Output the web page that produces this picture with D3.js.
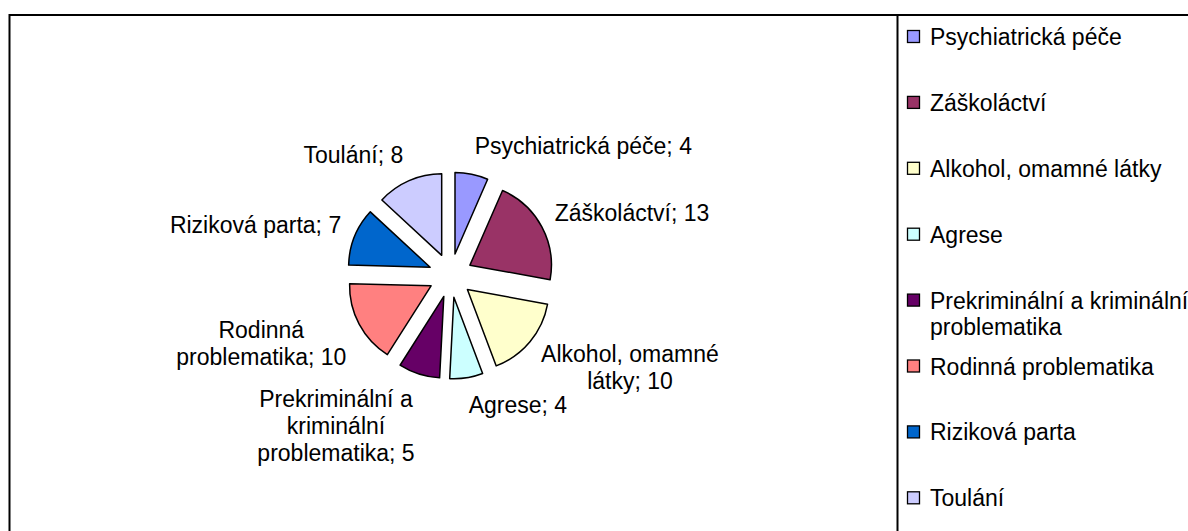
<!DOCTYPE html>
<html>
<head>
<meta charset="utf-8">
<script src="https://cdn.jsdelivr.net/npm/d3@7"></script>
<style>
	body { margin: 0; background: #fff; }
	svg text { font-family: "Liberation Sans", Arial, sans-serif; font-size: 23px; fill: #000; }
</style>
</head>
<body>
<div id="chart"></div>
<script>
var categories = ["Psychiatrická péče", "Záškoláctví", "Alkohol, omamné látky", "Agrese",
		"Prekriminální a kriminální problematika", "Rodinná problematika", "Riziková parta", "Toulání"],
	values = [4, 13, 10, 4, 5, 10, 7, 8],
	colors = ["#9999FF", "#993366", "#FFFFCC", "#CCFFFF", "#660066", "#FF8080", "#0066CC", "#CCCCFF"];

var width = 1188,
	height = 531,
	center = {x: 450.5, y: 275.5},
	radius = 81.5,
	explode = 22,
	labelRadius = 118,
	lineHeight = 27;

var svg = d3.select("#chart").append("svg")
	.attr("width", width)
	.attr("height", height);

// chart area and legend frames (they run off the right and bottom edges)
svg.append("rect")
	.attr("x", 9.5).attr("y", 15)
	.attr("width", 1400).attr("height", 700)
	.attr("fill", "#fff").attr("stroke", "#000").attr("stroke-width", 2);
svg.append("rect")
	.attr("x", 897.5).attr("y", 15)
	.attr("width", 600).attr("height", 700)
	.attr("fill", "#fff").attr("stroke", "#000").attr("stroke-width", 2);

var pie = d3.pie().sort(null).value(function(d) { return d; }),
	arc = d3.arc().innerRadius(0).outerRadius(radius),
	arcs = pie(values);

function midAngle(d) { return (d.startAngle + d.endAngle) / 2; }

var g = svg.append("g")
	.attr("transform", "translate(" + center.x + "," + center.y + ")");

g.selectAll("path")
	.data(arcs)
  .enter().append("path")
	.attr("d", arc)
	.attr("fill", function(d, i) { return colors[i]; })
	.attr("stroke", "#000")
	.attr("stroke-width", 1.5)
	.attr("stroke-linejoin", "round")
	.attr("transform", function(d) {
		var a = midAngle(d);
		return "translate(" + (Math.sin(a) * explode) + "," + (-Math.cos(a) * explode) + ")";
	});

// greedy word wrap using real text widths
var measurer = svg.append("text").attr("visibility", "hidden");
function textWidth(s) {
	measurer.text(s);
	return measurer.node().getComputedTextLength();
}
function wrap(words, maxWidth) {
	var lines = [], cur = "";
	words.forEach(function(w) {
		var test = cur ? cur + " " + w : w;
		if (cur && textWidth(test) > maxWidth) {
			lines.push(cur);
			cur = w;
		} else {
			cur = test;
		}
	});
	if (cur) lines.push(cur);
	return lines;
}

// data labels: "name; value", the value glued to the last word
var labels = svg.append("g");
arcs.forEach(function(d, i) {
	var words = categories[i].split(" ");
	words[words.length - 1] += ";\u00a0" + values[i];
	var lines = wrap(words, 228),
		w = d3.max(lines, textWidth),
		h = lines.length * lineHeight,
		a = midAngle(d),
		px = center.x + Math.sin(a) * labelRadius,
		py = center.y - Math.cos(a) * labelRadius,
		left = Math.sin(a) >= 0 ? px : px - w,
		cy = py - Math.cos(a) * h / 2,
		top = cy - h / 2;

	var t = labels.append("text").attr("text-anchor", "middle");
	lines.forEach(function(l, j) {
		t.append("tspan")
			.attr("x", left + w / 2)
			.attr("y", top + j * lineHeight + 21)
			.text(l);
	});
});

// legend
var legendRow = 65.9,
	legendTop = 37;
var legend = svg.append("g");
categories.forEach(function(c, i) {
	var yc = legendTop + i * legendRow;
	legend.append("rect")
		.attr("x", 907.5).attr("y", yc - 6.5)
		.attr("width", 12).attr("height", 12)
		.attr("fill", colors[i])
		.attr("stroke", "#000").attr("stroke-width", 1.3);
	var lines = wrap(c.split(" "), 290);
	var t = legend.append("text");
	lines.forEach(function(l, j) {
		t.append("tspan")
			.attr("x", 930)
			.attr("y", yc + 8 + j * 26)
			.text(l);
	});
});
measurer.remove();
</script>
</body>
</html>
